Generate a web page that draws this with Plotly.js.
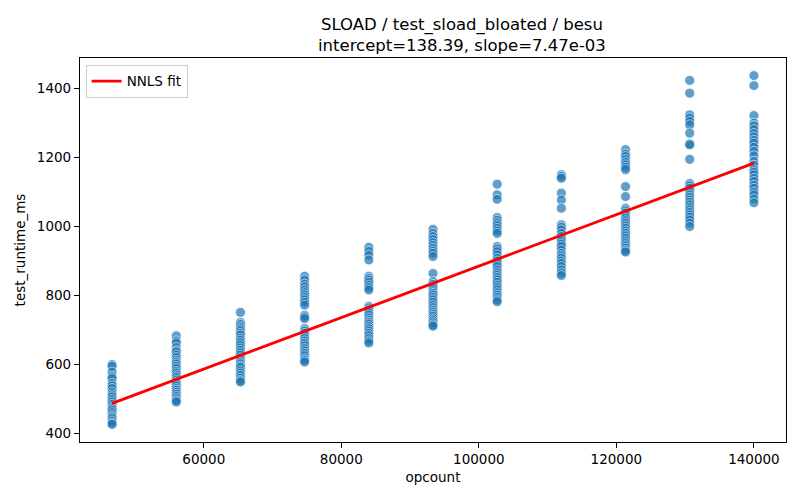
<!DOCTYPE html>
<html>
<head>
<meta charset="utf-8">
<script src="https://cdn.plot.ly/plotly-3.0.1.min.js"></script>
<style>
  html, body { margin: 0; padding: 0; background: #fff; }
  #chart { width: 800px; height: 500px; }
</style>
</head>
<body>
<div id="chart"></div>
<script>
// opcount levels (x) and the runtimes measured at each of them
const opcounts = [46667, 56000, 65333, 74667, 84000, 93333, 102667, 112000, 121333, 130667, 140000];

const runs46667 = [600, 595, 578, 565, 559, 545, 538, 530, 520, 512, 506, 498, 491, 484, 477, 472, 467, 460, 453, 448, 443, 436, 430, 426];
const runs56000 = [683, 668, 662, 649, 640, 636, 627, 620, 612, 606, 601, 594, 588, 580, 575, 568, 562, 555, 549, 543, 537, 530, 525, 519, 513, 507, 501, 495, 491];
const runs65333 = [751, 722, 716, 709, 703, 697, 690, 685, 676, 670, 663, 656, 648, 641, 634, 627, 619, 612, 606, 601, 595, 591, 582, 575, 568, 560, 553, 549];
const runs74667 = [856, 845, 833, 825, 816, 808, 801, 794, 787, 780, 772, 743, 738, 733, 704, 697, 690, 683, 675, 668, 661, 654, 646, 639, 632, 625, 617, 612, 607];
const runs84000 = [940, 928, 917, 903, 856, 850, 845, 838, 830, 823, 816, 769, 764, 758, 750, 743, 735, 728, 722, 717, 710, 704, 697, 690, 683, 675, 668, 662];
const runs93333 = [992, 980, 971, 962, 953, 945, 937, 929, 922, 913, 864, 840, 832, 825, 818, 811, 806, 801, 794, 787, 780, 772, 765, 758, 752, 746, 740, 733, 727, 721, 715, 711];
const runs102667 = [1123, 1092, 1079, 1026, 1018, 1010, 1003, 995, 987, 980, 942, 935, 927, 918, 908, 900, 893, 884, 874, 866, 859, 852, 845, 838, 830, 823, 816, 808, 801, 794, 787, 782];
const runs112000 = [1150, 1145, 1140, 1097, 1077, 1053, 1005, 998, 990, 980, 971, 963, 956, 949, 942, 932, 922, 915, 908, 900, 893, 884, 874, 865, 858];
const runs121333 = [1223, 1210, 1203, 1194, 1186, 1179, 1172, 1165, 1116, 1087, 1053, 1046, 1039, 1031, 1024, 1017, 1010, 1002, 995, 987, 980, 973, 966, 958, 951, 944, 937, 930, 926];
const runs130667 = [1424, 1387, 1324, 1315, 1305, 1295, 1271, 1240, 1237, 1195, 1125, 1118, 1111, 1102, 1092, 1085, 1077, 1070, 1063, 1055, 1048, 1041, 1034, 1027, 1019, 1010, 1000];
const runs140000 = [1438, 1409, 1322, 1300, 1292, 1281, 1270, 1260, 1250, 1242, 1230, 1218, 1205, 1189, 1178, 1165, 1158, 1150, 1140, 1131, 1120, 1111, 1100, 1092, 1080, 1069];

// NNLS fit line end points
const fitX = [46667, 140000];
const fitY = [487.0, 1184.2];

const allRuns = [runs46667, runs56000, runs65333, runs74667, runs84000, runs93333,
                 runs102667, runs112000, runs121333, runs130667, runs140000];

let xs = [], ys = [];
allRuns.forEach(function (runs, i) {
    runs.forEach(function (v) {
        xs.push(opcounts[i]);
        ys.push(v);
    });
});

const font = 'DejaVu Sans, sans-serif';

const data = [
    {
        x: xs, y: ys,
        type: 'scatter', mode: 'markers',
        showlegend: false,
        marker: {
            color: '#1f77b4', size: 10, opacity: 0.7,
            line: { color: 'white', width: 0.8 }
        },
        hoverinfo: 'skip'
    },
    {
        x: fitX, y: fitY,
        type: 'scatter', mode: 'lines',
        name: 'NNLS fit',
        line: { color: 'red', width: 2.8 }
    }
];

const axisStyle = {
    showgrid: false,
    zeroline: false,
    showline: true,
    mirror: true,
    linecolor: 'black',
    linewidth: 1.1,
    ticks: 'outside',
    ticklen: 5,
    tickwidth: 1,
    tickcolor: 'black',
    tickfont: { family: font, size: 13.5, color: 'black' }
};

const layout = {
    width: 800, height: 500,
    paper_bgcolor: 'white', plot_bgcolor: 'white',
    margin: { l: 80, r: 14, t: 58, b: 58, pad: 0 },
    font: { family: font, color: 'black' },
    title: {
        text: 'SLOAD / test_sload_bloated / besu<br>intercept=138.39, slope=7.47e-03',
        font: { family: font, size: 16.5, color: 'black' },
        x: 0.541, xref: 'paper', xanchor: 'center',
        y: 0.94, yref: 'container', yanchor: 'middle'
    },
    xaxis: Object.assign({}, axisStyle, {
        range: [42000, 144667],
        tickvals: [60000, 80000, 100000, 120000, 140000],
        tickformat: 'd',
        title: { text: 'opcount', font: { family: font, size: 13.5, color: 'black' }, standoff: 6 }
    }),
    yaxis: Object.assign({}, axisStyle, {
        range: [375, 1489],
        tickvals: [400, 600, 800, 1000, 1200, 1400],
        tickformat: 'd',
        title: { text: 'test_runtime_ms', font: { family: font, size: 13.5, color: 'black' }, standoff: 8 }
    }),
    legend: {
        x: 0.008, y: 0.982, xanchor: 'left', yanchor: 'top',
        bgcolor: 'rgba(255,255,255,0.8)',
        bordercolor: '#cccccc', borderwidth: 1,
        font: { family: font, size: 13.5, color: 'black' }
    }
};

Plotly.newPlot('chart', data, layout, { staticPlot: true });
</script>
</body>
</html>
